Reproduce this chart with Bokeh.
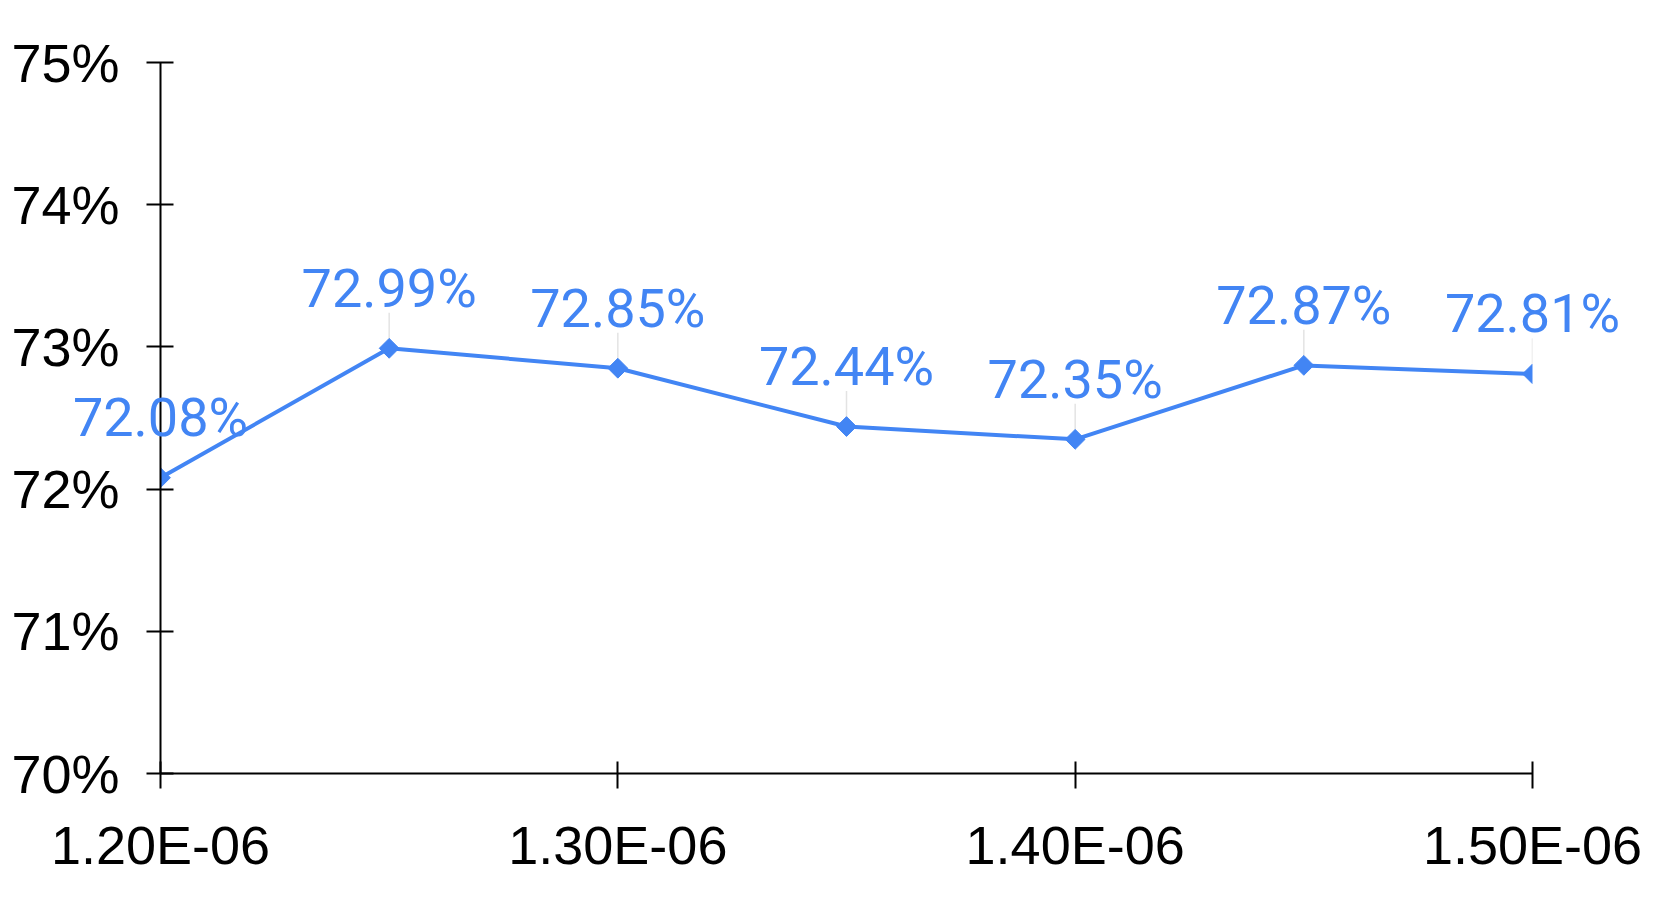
from bokeh.plotting import figure
from bokeh.models import (ColumnDataSource, Label, Range1d, FixedTicker,
                          CustomJSTickFormatter, PrintfTickFormatter)
from bokeh.embed import file_html
from bokeh.resources import INLINE

# data
x_values = [1.20e-6, 1.25e-6, 1.30e-6, 1.35e-6, 1.40e-6, 1.45e-6, 1.50e-6]
y_values = [72.08, 72.99, 72.85, 72.44, 72.35, 72.87, 72.81]
x_ticks = [1.20e-6, 1.30e-6, 1.40e-6, 1.50e-6]
y_ticks = [70, 71, 72, 73, 74, 75]
point_labels = [f"{v:.2f}%" for v in y_values]

BLUE = "#4285F4"

# layout: frame spans the whole canvas so point labels / tick labels are not
# clipped; both axes are pinned to the data extent.
W, H = 1645, 908
axis_left_px, axis_right_px = 160, 1532
axis_top_px, axis_bottom_px = 62, 773
xmin, xmax = x_ticks[0], x_ticks[-1]
ymin, ymax = y_ticks[0], y_ticks[-1]
xs = (xmax - xmin) / (axis_right_px - axis_left_px)
ys = (ymax - ymin) / (axis_bottom_px - axis_top_px)
x_start = xmin - axis_left_px * xs
x_end = xmax + (W - axis_right_px) * xs
y_start = ymin - (H - axis_bottom_px) * ys
y_end = ymax + axis_top_px * ys

p = figure(width=W, height=H, output_backend="svg", toolbar_location=None,
           x_range=Range1d(x_start, x_end), y_range=Range1d(y_start, y_end),
           min_border_left=0, min_border_right=0,
           min_border_top=0, min_border_bottom=0)
p.outline_line_color = None
p.xgrid.visible = False
p.ygrid.visible = False
p.background_fill_color = "white"
p.border_fill_color = "white"

lead = 0.25  # leader line length in % units
src = ColumnDataSource(dict(x=x_values, y=y_values, y2=[v + lead for v in y_values],
                            label=point_labels))

p.segment(x0="x", y0="y", x1="x", y1="y2", source=src, line_color="#e3e3e3", line_width=1.5)
p.line("x", "y", source=src, line_color=BLUE, line_width=4)
p.scatter("x", "y", source=src, marker="square", angle=0.785398, size=14,
          fill_color=BLUE, line_color=BLUE)
# white masks outside the plotted x extent (emulate clipping of end markers)
p.quad(left=[x_start, xmax], right=[xmin, x_end], bottom=ymin, top=ymax,
       fill_color="white", line_color=None)

for xv, yv, txt in zip(x_values, y_values, point_labels):
    p.add_layout(Label(x=xv, y=yv, text=txt, y_offset=60, level="overlay",
                       text_align="center", text_baseline="alphabetic",
                       text_color=BLUE, text_font="Roboto", text_font_size="54px"))

for ax in (p.xaxis[0], p.yaxis[0]):
    ax.axis_line_color = "black"
    ax.axis_line_width = 2
    ax.major_tick_line_color = "black"
    ax.major_tick_line_width = 2
    ax.minor_tick_line_color = None
    ax.major_label_text_font = "Liberation Sans"
    ax.major_label_text_font_size = "54px"
    ax.major_label_text_color = "black"

xa = p.xaxis[0]
xa.fixed_location = ymin
xa.ticker = FixedTicker(ticks=x_ticks)
xa.bounds = (xmin, xmax)
xa.formatter = CustomJSTickFormatter(code="return (tick/1e-6).toFixed(2) + 'E-06';")
xa.major_tick_in = 12
xa.major_tick_out = 15
xa.major_label_standoff = 26

ya = p.yaxis[0]
ya.fixed_location = xmin
ya.bounds = (ymin, ymax)
ya.ticker = FixedTicker(ticks=y_ticks)
ya.formatter = PrintfTickFormatter(format="%d%%")
ya.major_tick_in = 13
ya.major_tick_out = 14
ya.major_label_standoff = 27

open("out.html", "w").write(file_html(p, INLINE))
